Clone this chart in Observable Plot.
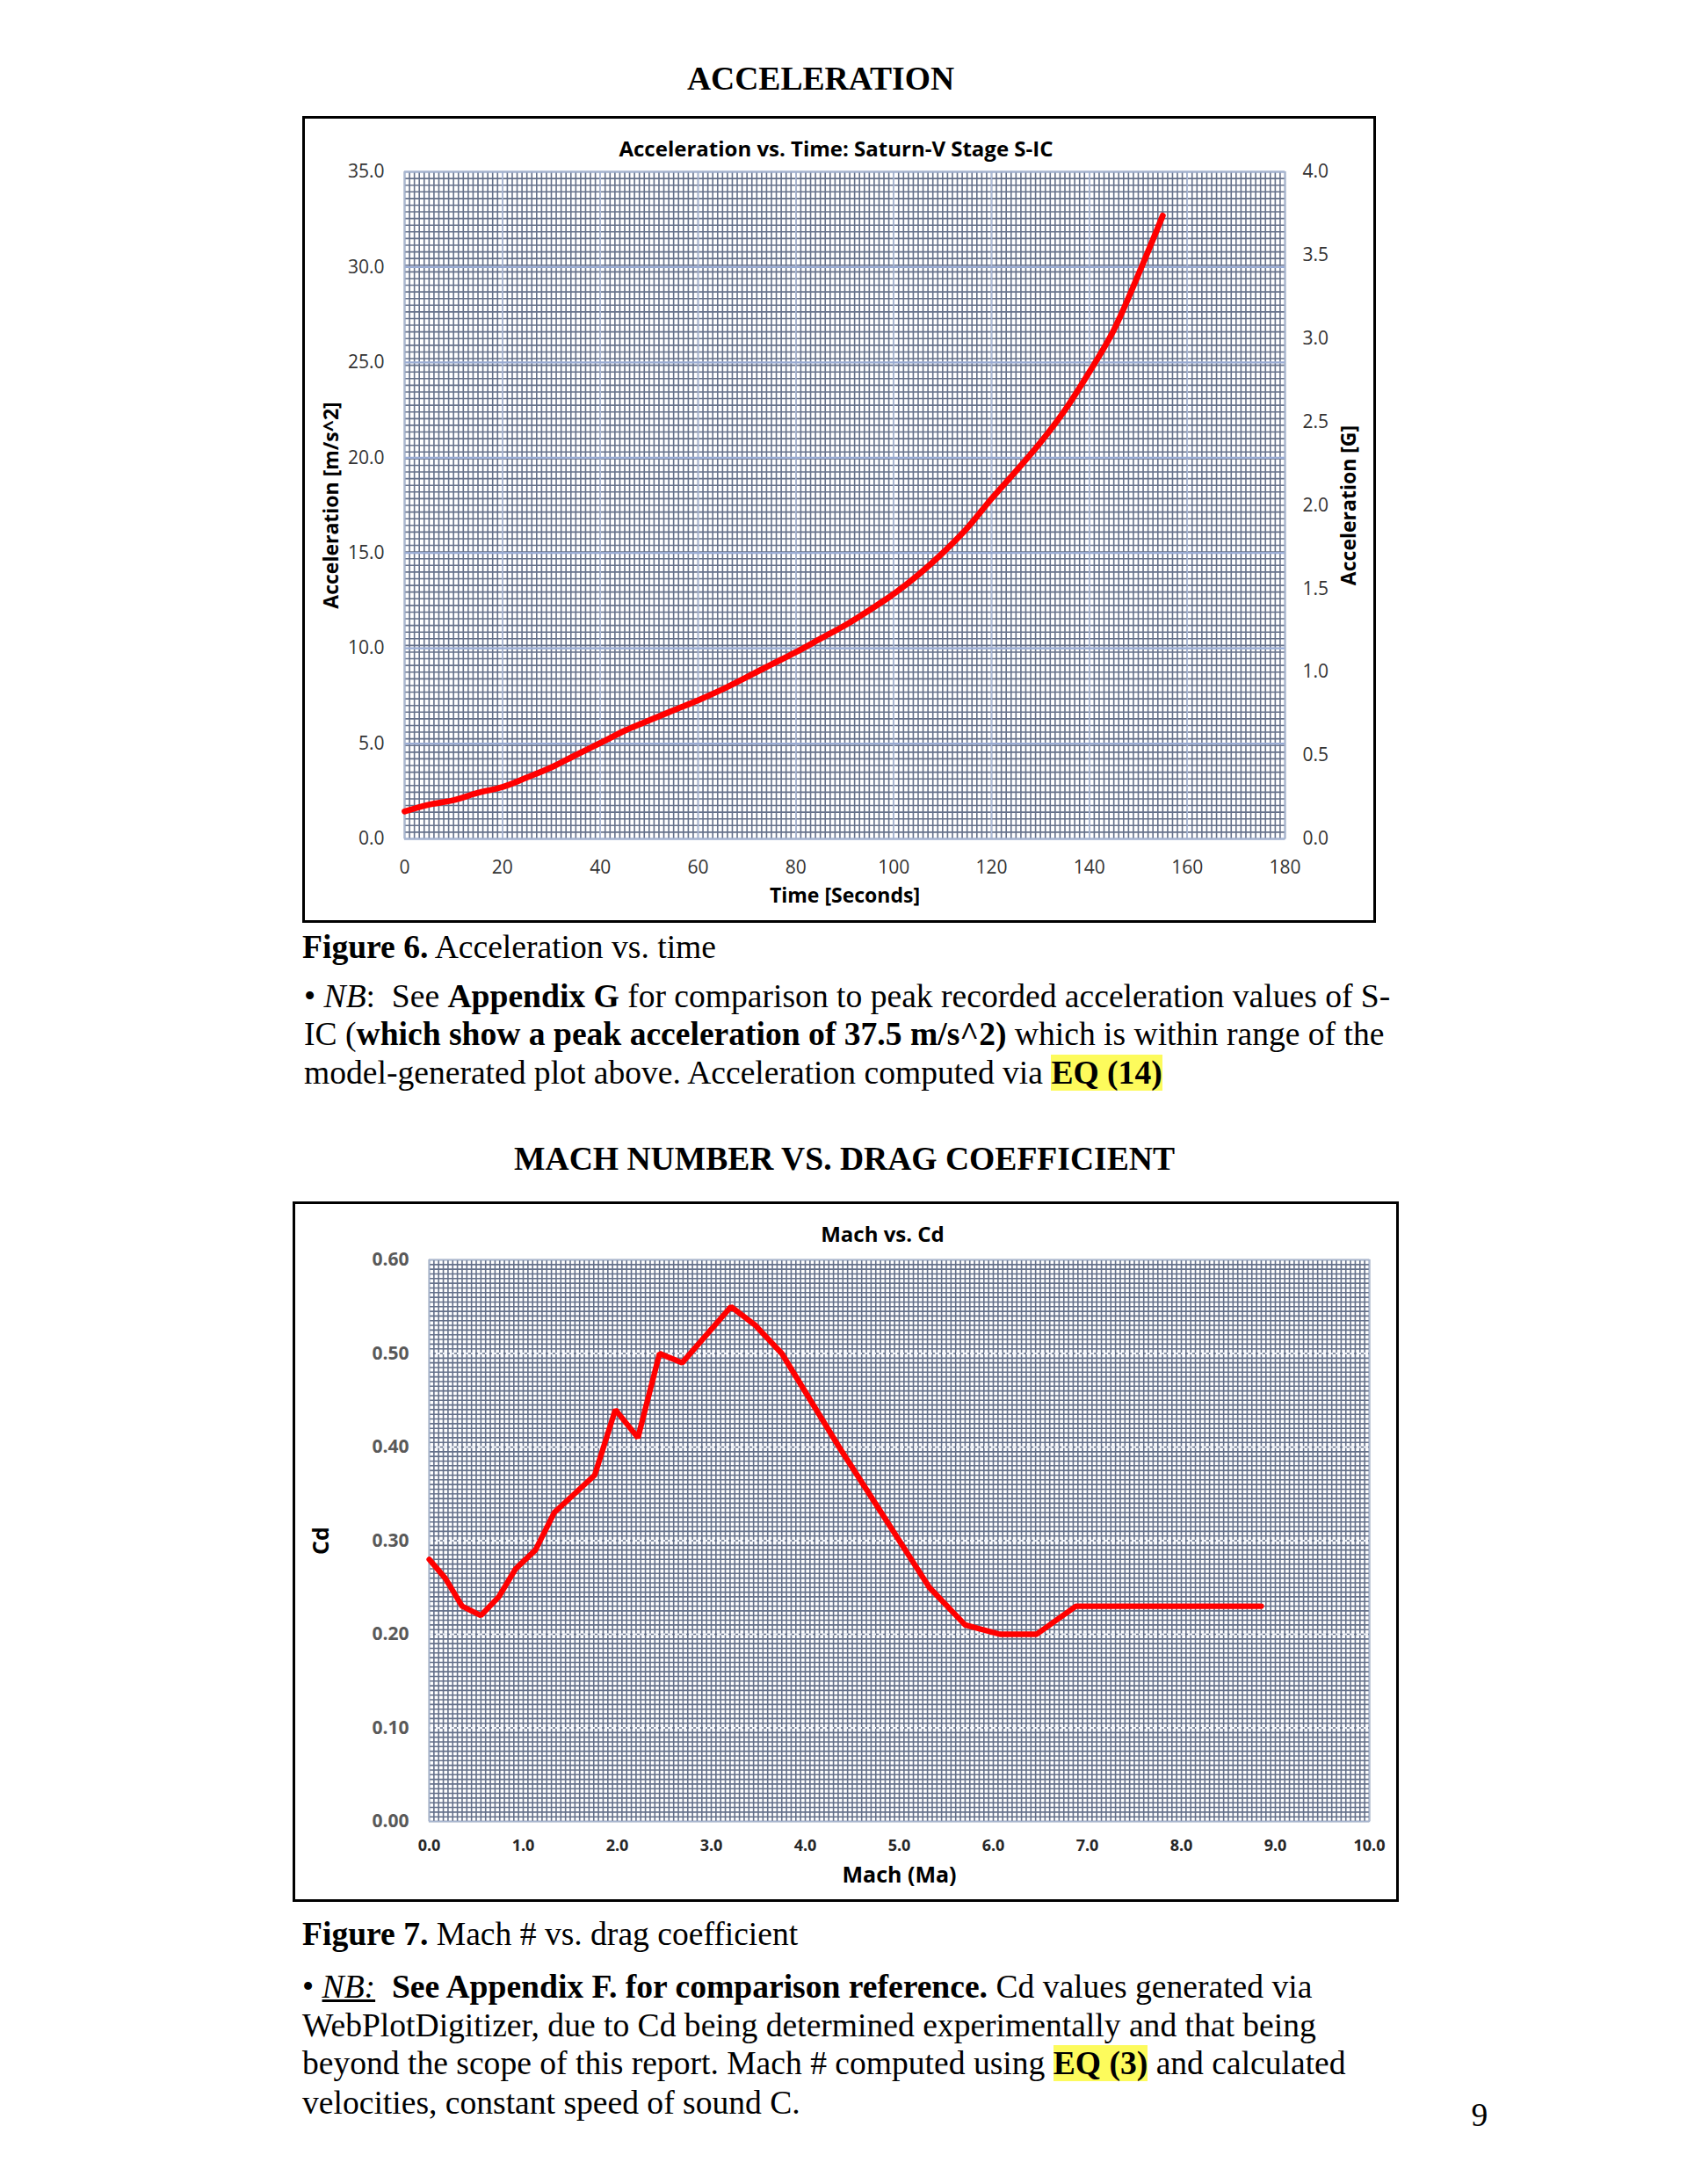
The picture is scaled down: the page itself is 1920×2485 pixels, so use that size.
<!DOCTYPE html>
<html>
<head>
<meta charset="utf-8">
<script src="https://cdn.jsdelivr.net/npm/d3@7"></script>
<script src="https://cdn.jsdelivr.net/npm/@observablehq/plot@0.6"></script>
<style>
  html, body { margin:0; padding:0; background:#fff; }
  body { width:1920px; height:2485px; position:relative; overflow:hidden; }
  .abs { position:absolute; }
  .frame { position:absolute; box-sizing:border-box; border:3px solid #000; pointer-events:none; }
  .serif { font-family:"Liberation Serif","Times New Roman",serif; font-size:37.6px; line-height:38px; white-space:pre; color:#000; }
  .hl { background:#fdfb5c; font-weight:bold; }
  svg { display:block; }
</style>
</head>
<body>
<script>
// ---------- Data: Figure 6 (Acceleration vs. Time) ----------
const timeSec = [0,5,10,15,20,25,30,35,40,45,50,55,60,65,70,75,80,85,90,95,100,105,110,115,120,125,130,135,140,145,150,155];
const accelMS2 = [1.44,1.80,2.03,2.42,2.72,3.22,3.75,4.40,5.03,5.68,6.22,6.75,7.27,7.85,8.50,9.15,9.80,10.50,11.20,12.00,12.85,13.85,15.00,16.30,17.85,19.30,20.80,22.50,24.50,26.70,29.60,32.70];
const timeTicks = [0,20,40,60,80,100,120,140,160,180];
const accelTicks = [0,5,10,15,20,25,30,35];
const gTicks = [0,0.5,1.0,1.5,2.0,2.5,3.0,3.5,4.0];
const accelMax = 35;   // left axis top (m/s^2)
const gMax = 4.0;      // right axis top (G)

// ---------- Data: Figure 7 (Mach vs. Cd) ----------
const mach = [0,0.17,0.35,0.55,0.74,0.92,1.13,1.33,1.76,1.98,2.22,2.45,2.69,3.21,3.47,3.75,4.36,5.00,5.32,5.70,6.07,6.46,6.88,8.85];
const cdVals = [0.28,0.26,0.23,0.22,0.24,0.27,0.29,0.33,0.37,0.44,0.41,0.50,0.49,0.55,0.53,0.50,0.40,0.30,0.25,0.21,0.20,0.20,0.23,0.23];
const machTicks = [0,1,2,3,4,5,6,7,8,9,10];
const cdTicks = [0,0.1,0.2,0.3,0.4,0.5,0.6];

// ---------- helpers ----------
function addDiv(html, cls, style) {
  const d = document.createElement("div");
  d.className = cls;
  d.innerHTML = html;
  d.setAttribute("style", style);
  document.body.appendChild(d);
  return d;
}
const FONT = "'Open Sans', 'Noto Sans', sans-serif";
const gridColor = "#64708a";
const centerText = {textAnchor: "middle", lineAnchor: "middle", fontWeight: "bold", fill: "#000"};

// ---------- Chart 1 ----------
const accTable = timeSec.map((t, i) => ({t, a: accelMS2[i]}));
const c1 = Plot.plot({
  width: 1222, height: 918,
  marginLeft: 116, marginRight: 104, marginTop: 63, marginBottom: 96,
  style: {fontFamily: FONT, background: "transparent", overflow: "visible"},
  x: {domain: [0, 180]},
  y: {domain: [0, accelMax]},
  marks: [
    Plot.ruleX(d3.range(0, 181), {stroke: gridColor, strokeWidth: 1.6}),
    Plot.ruleY(d3.range(0, 101).map(i => i * accelMax / 100), {stroke: gridColor, strokeWidth: 1.6}),
    Plot.ruleX(timeTicks, {stroke: "#aebbd8", strokeWidth: 1.6}),
    Plot.ruleY(accelTicks, {stroke: "#9aacd4", strokeWidth: 2.2}),
    Plot.frame({stroke: "#a9b7d0", strokeWidth: 1.5}),
    Plot.axisX(timeTicks, {tickSize: 0, tickPadding: 25, fontSize: 21, fill: "#333", label: null, tickFormat: d => String(d)}),
    Plot.axisY(accelTicks, {anchor: "left", tickSize: 0, tickPadding: 23, fontSize: 21, fill: "#333", label: null, tickFormat: d3.format(".1f")}),
    Plot.axisY(gTicks.map(g => g * accelMax / gMax), {anchor: "right", tickSize: 0, tickPadding: 20, fontSize: 21, fill: "#333", label: null, tickFormat: d => (d * gMax / accelMax).toFixed(1)}),
    Plot.line(accTable, {x: "t", y: "a", stroke: "#ff0000", strokeWidth: 6.8, curve: "monotone-x", strokeLinecap: "round"}),
    Plot.text(["Acceleration vs. Time: Saturn-V Stage S-IC"], {text: d => d, frameAnchor: "top", dx: -10, dy: -25, fontSize: 24, ...centerText}),
    Plot.text(["Time [Seconds]"], {text: d => d, frameAnchor: "bottom", dy: 65, fontSize: 23, ...centerText}),
    Plot.text(["Acceleration [m/s^2]"], {text: d => d, frameAnchor: "left", dx: -83, rotate: -90, fontSize: 23, ...centerText}),
    Plot.text(["Acceleration [G]"], {text: d => d, frameAnchor: "right", dx: 73, rotate: -90, fontSize: 23, ...centerText})
  ]
});
const h1 = addDiv("", "abs", "left:344px;top:132px;");
h1.appendChild(c1);
addDiv("", "frame", "left:344px;top:132px;width:1222px;height:918px;");

// ---------- Chart 2 ----------
const cdTable = mach.map((m, i) => ({m, cd: cdVals[i]}));
const c2 = Plot.plot({
  width: 1259, height: 797,
  marginLeft: 155, marginRight: 34, marginTop: 66, marginBottom: 92,
  style: {fontFamily: FONT, background: "transparent", overflow: "visible"},
  x: {domain: [0, 10]},
  y: {domain: [0, 0.6]},
  marks: [
    Plot.ruleX(d3.range(0, 201).map(i => i * 0.05), {stroke: gridColor, strokeWidth: 1.6}),
    Plot.ruleY(d3.range(0, 121).map(i => i * 0.005), {stroke: gridColor, strokeWidth: 1.6}),
    Plot.ruleY(cdTicks.slice(1, -1), {stroke: "#eef1f8", strokeWidth: 2, strokeDasharray: "5,3"}),
    Plot.frame({stroke: "#a9b7d0", strokeWidth: 1.5}),
    Plot.axisX(machTicks, {tickSize: 0, tickPadding: 21, fontSize: 18, fontWeight: "bold", fill: "#262626", label: null, tickFormat: d3.format(".1f")}),
    Plot.axisY(cdTicks, {anchor: "left", tickSize: 0, tickPadding: 23, fontSize: 21, fontWeight: "bold", fill: "#595959", label: null, tickFormat: d3.format(".2f")}),
    Plot.line(cdTable, {x: "m", y: "cd", stroke: "#ff0000", strokeWidth: 6.3, strokeLinejoin: "miter", strokeLinecap: "round"}),
    Plot.text(["Mach vs. Cd"], {text: d => d, frameAnchor: "top", dx: -19, dy: -28, fontSize: 24, ...centerText}),
    Plot.text(["Mach (Ma)"], {text: d => d, frameAnchor: "bottom", dy: 61, fontSize: 25, ...centerText}),
    Plot.text(["Cd"], {text: d => d, frameAnchor: "left", dx: -123, rotate: -90, fontSize: 25, ...centerText})
  ]
});
const h2 = addDiv("", "abs", "left:333px;top:1367px;");
h2.appendChild(c2);
addDiv("", "frame", "left:333px;top:1367px;width:1259px;height:797px;");

// ---------- Page text ----------
function line(html, x, yc, extra) {
  return addDiv(html, "abs serif", `left:${x}px;top:${yc - 19}px;${extra || ""}`);
}
function centered(html, xc, yc, extra) {
  return addDiv(html, "abs serif", `left:${xc}px;top:${yc - 19}px;transform:translateX(-50%);${extra || ""}`);
}
centered("<b>ACCELERATION</b>", 934, 90);
line("<b>Figure 6.</b> Acceleration vs. time", 344, 1078);
line("• <i>NB</i>:  See <b>Appendix G</b> for comparison to peak recorded acceleration values of S-", 346, 1134);
line("IC (<b>which show a peak acceleration of 37.5 m/s^2)</b> which is within range of the", 346, 1177);
line("model-generated plot above. Acceleration computed via <span class=\"hl\">EQ (14)</span>", 346, 1221);
centered("<b>MACH NUMBER VS. DRAG COEFFICIENT</b>", 961, 1319);
line("<b>Figure 7.</b> Mach # vs. drag coefficient", 344, 2201);
line("• <i><u>NB:</u></i>  <b>See Appendix F. for comparison reference.</b> Cd values generated via", 344, 2261);
line("WebPlotDigitizer, due to Cd being determined experimentally and that being", 344, 2305);
line("beyond the scope of this report. Mach # computed using <span class=\"hl\">EQ (3)</span> and calculated", 344, 2348);
line("velocities, constant speed of sound C.", 344, 2393);
centered("9", 1684, 2407);
</script>
</body>
</html>
